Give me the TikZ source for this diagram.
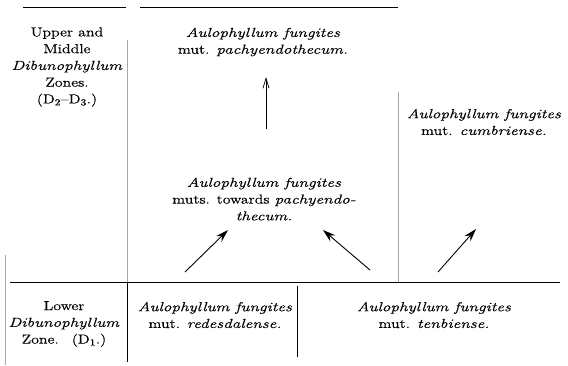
\documentclass[tikz,border=0pt]{standalone}
\usepackage{fontspec}
\setmainfont{Latin Modern Roman}[FakeStretch=1.22, FakeBold=0.4,
	ItalicFeatures={FakeStretch=1.32, FakeBold=0.3}]
\usetikzlibrary{arrows.meta}

\begin{document}
\begin{tikzpicture}[x=1pt, y=-1pt,
		zone/.style={align=center, inner sep=0pt, font=\fontsize{13}{16.75}\selectfont},
		mutation/.style={align=center, inner sep=0pt, font=\fontsize{13}{16.75}\selectfont},
		rule/.style={line width=0.8pt},
		faintrule/.style={line width=0.5pt, color=black!35},
		descent/.style={line width=0.9pt, -{Stealth[length=13pt,width=8pt,inset=4.5pt]}},
		upward/.style={line width=0.7pt, -{Straight Barb[length=10pt,width=6pt]}}]
		%%%%% START %%%%%
		\useasboundingbox (0,0) rectangle (568,365);
		
		% zones
		\node[zone] (upperzone) at (67,67) {Upper and\\Middle\\\textit{Dibunophyllum}\\Zones.\\(D\textsubscript{2}--D\textsubscript{3}.)};
		\node[zone] (lowerzone) at (64,324) {Lower\\\textit{Dibunophyllum}\\Zone.\quad(D\textsubscript{1}.)};
		
		% mutations
		\node[mutation] (pachy) at (263,42) {\textit{Aulophyllum fungites}\\mut. \textit{pachyendothecum.}};
		\node[mutation] (towards) at (264,199) {\textit{Aulophyllum fungites}\\muts. towards \textit{pachyendo-}\\\textit{thecum.}};
		\node[mutation] (cumbri) at (484,122) {\textit{Aulophyllum fungites}\\mut. \textit{cumbriense.}};
		\node[mutation] (redes) at (215,315) {\textit{Aulophyllum fungites}\\mut. \textit{redesdalense.}};
		\node[mutation] (tenbi) at (434,315) {\textit{Aulophyllum fungites}\\mut. \textit{tenbiense.}};
		
		% rules
		\draw[rule] (23,7) -- (126,7);
		\draw[rule] (140,7) -- (398,7);
		\draw[rule] (10,282) -- (560,282);
		\draw[faintrule] (127,40) -- (127,282);
		\draw[rule] (127,282) -- (127,362);
		\draw[faintrule] (398,92) -- (398,282);
		\draw[rule] (297,286) -- (297,357);
		\draw[faintrule] (5,255) -- (5,365);
		
		% arrows
		\coordinate (redestail) at (185,272);
		\coordinate (redeshead) at (228,230);
		\coordinate (tenbitail) at (370,270);
		\coordinate (tenbihead) at (323,230);
		\coordinate (cumbritail) at (438,272);
		\coordinate (cumbrihead) at (476,229);
		\coordinate (towardstail) at (266,129);
		\coordinate (towardshead) at (266,77);
		\draw[descent] (redestail) -- (redeshead);
		\draw[descent] (tenbitail) -- (tenbihead);
		\draw[descent] (cumbritail) -- (cumbrihead);
		\draw[upward] (towardstail) -- (towardshead);
		
		%%%%% END %%%%%
\end{tikzpicture}
\end{document}
